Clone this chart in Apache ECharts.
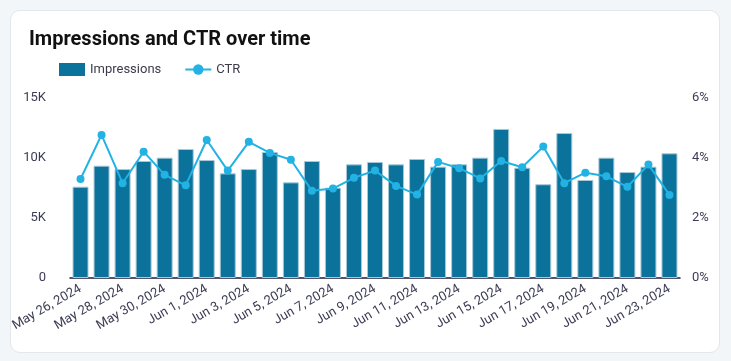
<!DOCTYPE html>
<html><head><meta charset="utf-8">
<script src="https://cdn.jsdelivr.net/npm/echarts@6/dist/echarts.min.js"></script>
<style>
html,body{margin:0;padding:0;background:#f3f6f8;width:731px;height:361px;overflow:hidden;}
#card{position:absolute;left:10px;top:10px;width:708px;height:341px;background:#fff;border:1px solid #e2e7eb;border-radius:10px;}
#chart{position:absolute;left:0;top:0;width:731px;height:361px;}
</style></head>
<body><div id="card"></div><div id="chart"></div>
<script>
const categories = ["May 26, 2024","May 27, 2024","May 28, 2024","May 29, 2024","May 30, 2024","May 31, 2024","Jun 1, 2024","Jun 2, 2024","Jun 3, 2024","Jun 4, 2024","Jun 5, 2024","Jun 6, 2024","Jun 7, 2024","Jun 8, 2024","Jun 9, 2024","Jun 10, 2024","Jun 11, 2024","Jun 12, 2024","Jun 13, 2024","Jun 14, 2024","Jun 15, 2024","Jun 16, 2024","Jun 17, 2024","Jun 18, 2024","Jun 19, 2024","Jun 20, 2024","Jun 21, 2024","Jun 22, 2024","Jun 23, 2024"];
const impressions = [7610,9360,9080,9750,10030,10750,9830,8720,9080,10500,7970,9750,7530,9470,9670,9470,9920,9280,9470,10030,12420,9190,7810,12080,8170,10030,8830,9280,10390];
const ctr = [0.0330,0.0477,0.0316,0.0421,0.0344,0.0309,0.0460,0.0358,0.0454,0.0417,0.0394,0.0291,0.0298,0.0334,0.0358,0.0307,0.0278,0.0387,0.0366,0.0332,0.0390,0.0369,0.0438,0.0316,0.0351,0.0339,0.0304,0.0378,0.0277];
const leftTicks = {min:0, max:15000, interval:5000};
const rightTicks = {min:0, max:0.06, interval:0.02};

const chart = echarts.init(document.getElementById('chart'), null, {renderer:'canvas'});
const font = 'Roboto, "Noto Sans", sans-serif';
chart.setOption({
  backgroundColor:'transparent',
  textStyle:{fontFamily:font},
  title:{text:'Impressions and CTR over time',left:24,top:25,textStyle:{fontSize:20,fontWeight:'bold',color:'#111',fontFamily:font}},
  legend:{left:54,top:58,itemWidth:26,itemHeight:13,itemGap:23,textStyle:{fontSize:13,color:'#3c3c4a',fontFamily:font},
    data:[{name:'Impressions',icon:'rect',itemStyle:{borderWidth:0}},{name:'CTR'}]},
  grid:{left:70,right:51,top:98,bottom:83},
  xAxis:{type:'category',data:categories,boundaryGap:true,
    axisLine:{lineStyle:{color:'#1b1b3a',width:1.5}},axisTick:{show:false},
    axisLabel:{interval:1,rotate:30,margin:10,fontSize:13,color:'#3c3c55',fontFamily:font}},
  yAxis:[
    {type:'value',min:leftTicks.min,max:leftTicks.max,interval:leftTicks.interval,splitLine:{show:false},
     axisLine:{show:false},axisTick:{show:false},
     axisLabel:{margin:24,fontSize:13,color:'#3c3c55',fontFamily:font,formatter:v=>v===0?'0':(v/1000)+'K'}},
    {type:'value',min:rightTicks.min,max:rightTicks.max,interval:rightTicks.interval,splitLine:{show:false},
     axisLine:{show:false},axisTick:{show:false},
     axisLabel:{margin:12,fontSize:13,color:'#3c3c55',fontFamily:font,formatter:v=>Math.round(v*100)+'%'}}
  ],
  series:[
    {name:'Impressions',type:'bar',data:impressions,barWidth:16,yAxisIndex:0,
     itemStyle:{color:'#0a729b',borderColor:'#a8c9d7',borderWidth:1}},
    {name:'CTR',type:'line',data:ctr,yAxisIndex:1,symbol:'circle',symbolSize:8,
     lineStyle:{color:'#22b2e3',width:2},itemStyle:{color:'#22b2e3'}}
  ],
  animation:false
});
</script></body></html>
